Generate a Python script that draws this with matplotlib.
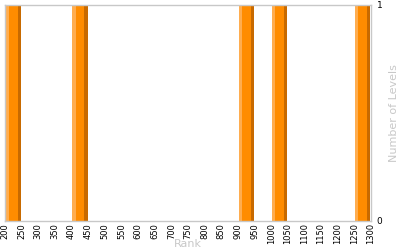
import matplotlib.pyplot as plt
import numpy as np

# histogram of levels per rank bin (bin width 50)
bin_starts = [200, 400, 900, 1000, 1250]
levels = [1, 1, 1, 1, 1]
bin_width = 50
x_ticks = list(range(200, 1301, 50))

c_light = "#ffad4f"
c_main = "#ff8c00"
c_dark = "#c86a00"

fig = plt.figure(figsize=(4.0, 2.5), dpi=100)
ax = fig.add_axes([0.0125, 0.116, 0.915, 0.864])

bar_w = bin_width * 0.92
for x0, h in zip(bin_starts, levels):
    left = x0 + bin_width / 2 - bar_w / 2
    ax.bar(left, h, width=bar_w * 0.22, align="edge", color=c_light, linewidth=0)
    ax.bar(left + bar_w * 0.22, h, width=bar_w * 0.58, align="edge", color=c_main, linewidth=0)
    ax.bar(left + bar_w * 0.80, h, width=bar_w * 0.20, align="edge", color=c_dark, linewidth=0)

ax.set_xlim(200, 1300)
ax.set_ylim(0, 1)
ax.set_xticks(x_ticks)
ax.set_xticklabels([str(t) for t in x_ticks], rotation=90, fontsize=6)
ax.set_yticks([0, 1])
ax.yaxis.tick_right()
ax.yaxis.set_label_position("right")
ax.tick_params(axis="both", length=0, pad=1.5, labelsize=6, colors="black")
ax.tick_params(axis="y", pad=4, labelsize=6.5)

for s in ax.spines.values():
    s.set_color("#c8c8c8")
    s.set_linewidth(1)

ax.set_xlabel("Rank", color="#c8c8c8", fontsize=8, va="top")
ax.xaxis.set_label_coords(0.5, -0.085)
ax.set_ylabel("Number of Levels", color="#c8c8c8", fontsize=8, labelpad=5)

fig.savefig("out.png", dpi=100)
